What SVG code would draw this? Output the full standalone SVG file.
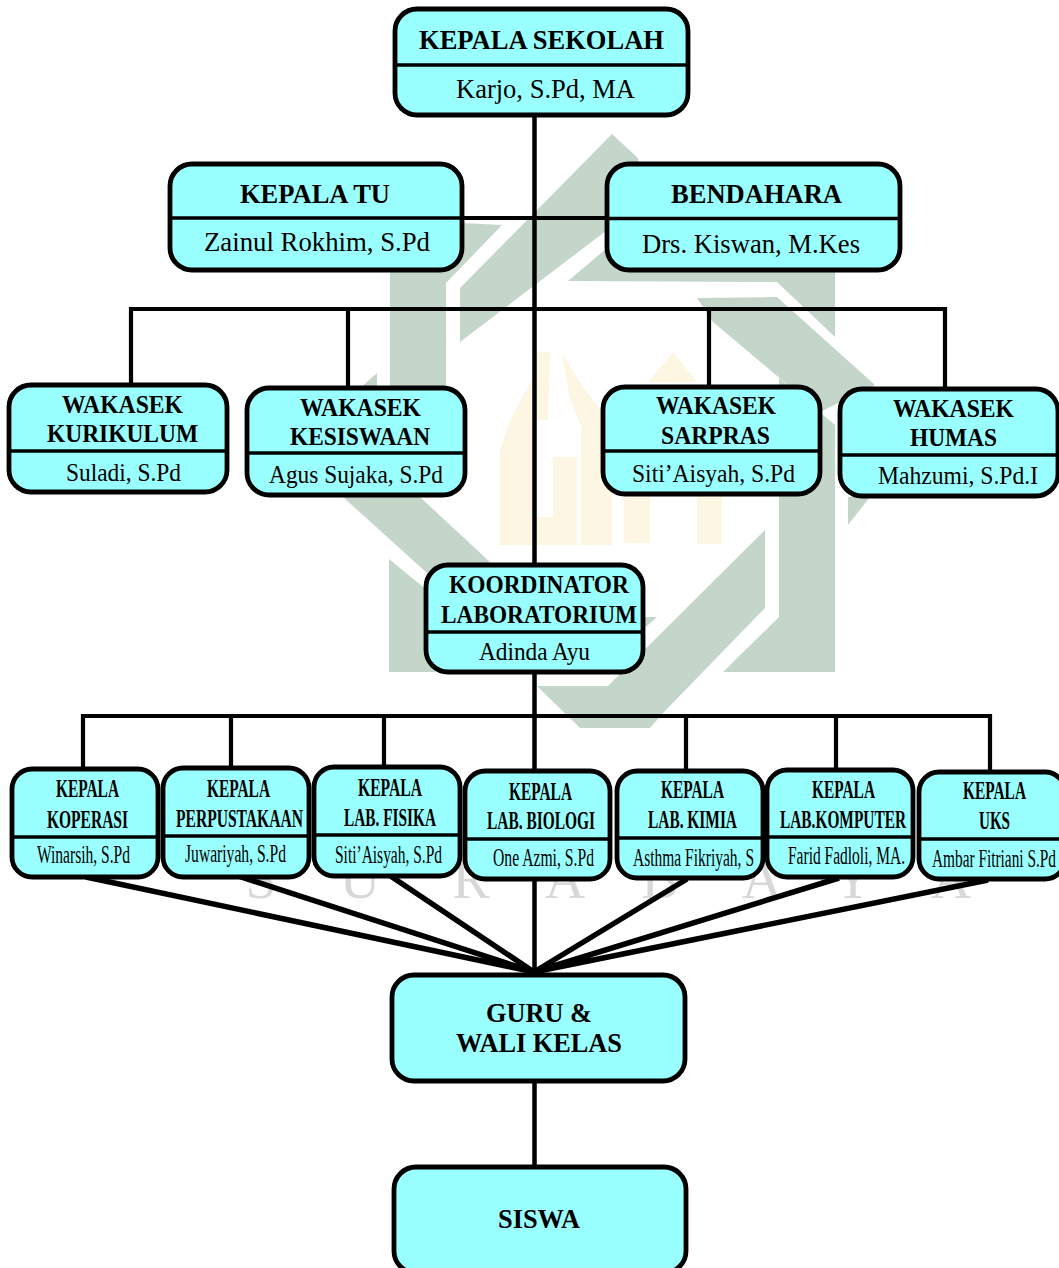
<svg xmlns="http://www.w3.org/2000/svg" width="1059" height="1268" viewBox="0 0 1059 1268">
<defs><filter id="soft" x="-5%" y="-5%" width="110%" height="110%"><feGaussianBlur stdDeviation="0.7"/></filter></defs>
<style>
text{font-family:"Liberation Serif","Times New Roman",serif;fill:#000}
.b{font-weight:bold;font-size:27px}
.n{font-size:27px}
.sb{font-weight:bold;font-size:26px}
.sn{font-size:26px}
.box{fill:#99ffff;stroke:#000;stroke-width:4.8}
.div{stroke:#000;stroke-width:3.5}
.con{stroke:#000;fill:none;stroke-width:4.5}
.diag{stroke:#000;fill:none;stroke-width:5.5}
.thin{stroke:#000;fill:none;stroke-width:4.2}
.wg{fill:#c4d5ca}
.wy{fill:#fdf6e3}
.wt{font-size:56px;fill:#d8d8d8;text-anchor:middle}
</style>
<rect width="1059" height="1268" fill="#fff"/>
<g id="watermark" filter="url(#soft)">
<polygon class="wg" points="390,270 440,222 502,225 446,283 446,392 390,392"/>
<polygon class="wg" points="612,134 638,158 640,205 460,342 460,288"/>
<polygon class="wg" points="568,281 607,248 620,240 835,270 835,337 777,282"/>
<polygon class="wg" points="697,298 777,297 875,385 820,412 713,322"/>
<polygon class="wg" points="779,378 835,425 835,672 723,672 779,617"/>
<polygon class="wg" points="765,530 765,608 663,713 650,728 580,728 537,686 608,686"/>
<polygon class="wg" points="640,617 657,617 640,632"/>
<polygon class="wg" points="343,497 420,497 490,562 440,590 427,573"/>
<polygon class="wg" points="389,559 445,605 445,672 389,672"/>
<polygon class="wg" points="377,373 377,390 358,390"/>
<polygon class="wg" points="848,497 870,497 848,525"/>
<polygon class="wy" points="500,545 500,450 510,420 533,378 533,545"/>
<polygon class="wy" points="537,352 550,352 548,420 537,420"/>
<polygon class="wy" points="537,517 577,517 577,545 537,545"/>
<polygon class="wy" points="553,457 577,457 577,545 553,545"/>
<polygon class="wy" points="581,426 603,426 612,440 612,545 581,545"/>
<polygon class="wy" points="562,353 583,387 603,413 603,426 581,426 570,400"/>
<polygon class="wy" points="624,497 650,497 650,543 624,543"/>
<polygon class="wy" points="697,493 722,493 722,544 697,544"/>
<polygon class="wy" points="673,352 648,382 697,382"/>
<g>
<text class="wt" x="261" y="898">S</text>
<text class="wt" x="360" y="898">U</text>
<text class="wt" x="471" y="898">R</text>
<text class="wt" x="565" y="898">A</text>
<text class="wt" x="660" y="898">B</text>
<text class="wt" x="762" y="898">A</text>
<text class="wt" x="853" y="898">Y</text>
<text class="wt" x="951" y="898">A</text>
</g>
</g>
<g id="connectors">
<path class="con" d="M534.5 115V975M534.5 1081V1166"/>
<path class="thin" d="M462 218H607"/>
<path class="thin" d="M131 385V309H945V389M348 388V309M709 387V309"/>
<path class="thin" d="M83 768V716H990V771M231 767V716M384 767V716M686 770V716M836 769V716"/>
<path class="diag" d="M86 877L534 972M238 876L534 972M389 875L534 972M687 879L534 972M839 878L534 972M988 880L534 972"/>
</g>
<g id="kepala-sekolah"><rect class="box" x="395" y="9" width="293" height="106" rx="22"/><path class="div" d="M395 65H688"/>
<text class="b" x="419" y="49" textLength="245" lengthAdjust="spacingAndGlyphs">KEPALA SEKOLAH</text>
<text class="n" x="456" y="98" textLength="179" lengthAdjust="spacingAndGlyphs">Karjo, S.Pd, MA</text></g>
<g id="kepala-tu"><rect class="box" x="170" y="164" width="292" height="106" rx="22"/><path class="div" d="M170 218H462"/>
<text class="b" x="240" y="203" textLength="150" lengthAdjust="spacingAndGlyphs">KEPALA TU</text>
<text class="n" x="204" y="251" textLength="226" lengthAdjust="spacingAndGlyphs">Zainul Rokhim, S.Pd</text></g>
<g id="bendahara"><rect class="box" x="607" y="164" width="293" height="106" rx="22"/><path class="div" d="M607 218.500H900"/>
<text class="b" x="671" y="203" textLength="171" lengthAdjust="spacingAndGlyphs">BENDAHARA</text>
<text class="n" x="642" y="253" textLength="218" lengthAdjust="spacingAndGlyphs">Drs. Kiswan, M.Kes</text></g>
<g id="wakasek-kurikulum"><rect class="box" x="9" y="385" width="218" height="107" rx="22"/><path class="div" d="M9 451H227"/>
<text class="sb" x="62" y="413" textLength="121" lengthAdjust="spacingAndGlyphs">WAKASEK</text>
<text class="sb" x="47" y="442" textLength="151" lengthAdjust="spacingAndGlyphs">KURIKULUM</text>
<text class="sn" x="66" y="481" textLength="115" lengthAdjust="spacingAndGlyphs">Suladi, S.Pd</text></g>
<g id="wakasek-kesiswaan"><rect class="box" x="247" y="388" width="218" height="107" rx="22"/><path class="div" d="M247 453H465"/>
<text class="sb" x="300" y="416" textLength="121" lengthAdjust="spacingAndGlyphs">WAKASEK</text>
<text class="sb" x="290" y="445" textLength="140" lengthAdjust="spacingAndGlyphs">KESISWAAN</text>
<text class="sn" x="269" y="483" textLength="174" lengthAdjust="spacingAndGlyphs">Agus Sujaka, S.Pd</text></g>
<g id="wakasek-sarpras"><rect class="box" x="603" y="387" width="217" height="107" rx="22"/><path class="div" d="M603 451H820"/>
<text class="sb" x="656" y="414" textLength="120" lengthAdjust="spacingAndGlyphs">WAKASEK</text>
<text class="sb" x="661" y="444" textLength="109" lengthAdjust="spacingAndGlyphs">SARPRAS</text>
<text class="sn" x="632" y="482" textLength="163" lengthAdjust="spacingAndGlyphs">Siti’Aisyah, S.Pd</text></g>
<g id="wakasek-humas"><rect class="box" x="840" y="389" width="218" height="107" rx="22"/><path class="div" d="M840 455H1058"/>
<text class="sb" x="893" y="417" textLength="121" lengthAdjust="spacingAndGlyphs">WAKASEK</text>
<text class="sb" x="910" y="446" textLength="87" lengthAdjust="spacingAndGlyphs">HUMAS</text>
<text class="sn" x="878" y="484" textLength="160" lengthAdjust="spacingAndGlyphs">Mahzumi, S.Pd.I</text></g>
<g id="koordinator-lab"><rect class="box" x="426" y="565" width="217" height="107" rx="22"/><path class="div" d="M426 632H643"/>
<text class="sb" x="449" y="593" textLength="180" lengthAdjust="spacingAndGlyphs">KOORDINATOR</text>
<text class="sb" x="441" y="623" textLength="196" lengthAdjust="spacingAndGlyphs">LABORATORIUM</text>
<text class="sn" x="479" y="660" textLength="111" lengthAdjust="spacingAndGlyphs">Adinda Ayu</text></g>
<g id="koperasi"><rect class="box" x="12" y="769" width="146" height="108" rx="20"/><path class="div" d="M12 837H158"/>
<text class="sb" x="56" y="797" textLength="63" lengthAdjust="spacingAndGlyphs">KEPALA</text>
<text class="sb" x="47" y="828" textLength="81" lengthAdjust="spacingAndGlyphs">KOPERASI</text>
<text class="sn" x="37" y="863" textLength="93" lengthAdjust="spacingAndGlyphs">Winarsih, S.Pd</text></g>
<g id="perpustakaan"><rect class="box" x="163" y="768" width="146" height="109" rx="20"/><path class="div" d="M163 836H309"/>
<text class="sb" x="207" y="797" textLength="63" lengthAdjust="spacingAndGlyphs">KEPALA</text>
<text class="sb" x="176" y="827" textLength="127" lengthAdjust="spacingAndGlyphs">PERPUSTAKAAN</text>
<text class="sn" x="185" y="862" textLength="101" lengthAdjust="spacingAndGlyphs">Juwariyah, S.Pd</text></g>
<g id="lab-fisika"><rect class="box" x="314" y="767" width="146" height="109" rx="20"/><path class="div" d="M314 835H460"/>
<text class="sb" x="358" y="796" textLength="64" lengthAdjust="spacingAndGlyphs">KEPALA</text>
<text class="sb" x="344" y="826" textLength="92" lengthAdjust="spacingAndGlyphs">LAB. FISIKA</text>
<text class="sn" x="335" y="863" textLength="107" lengthAdjust="spacingAndGlyphs">Siti’Aisyah, S.Pd</text></g>
<g id="lab-biologi"><rect class="box" x="465" y="771" width="145" height="108" rx="20"/><path class="div" d="M465 839H610"/>
<text class="sb" x="509" y="800" textLength="63" lengthAdjust="spacingAndGlyphs">KEPALA</text>
<text class="sb" x="487" y="829" textLength="108" lengthAdjust="spacingAndGlyphs">LAB. BIOLOGI</text>
<text class="sn" x="493" y="866" textLength="101" lengthAdjust="spacingAndGlyphs">One Azmi, S.Pd</text></g>
<g id="lab-kimia"><rect class="box" x="617" y="771" width="146" height="107" rx="20"/><path class="div" d="M617 838H763"/>
<text class="sb" x="661" y="798" textLength="63" lengthAdjust="spacingAndGlyphs">KEPALA</text>
<text class="sb" x="648" y="828" textLength="89" lengthAdjust="spacingAndGlyphs">LAB. KIMIA</text>
<text class="sn" x="633" y="866" textLength="121" lengthAdjust="spacingAndGlyphs">Asthma Fikriyah, S</text></g>
<g id="lab-komputer"><rect class="box" x="767" y="770" width="146" height="107" rx="20"/><path class="div" d="M767 837H913"/>
<text class="sb" x="812" y="798" textLength="63" lengthAdjust="spacingAndGlyphs">KEPALA</text>
<text class="sb" x="780" y="828" textLength="126" lengthAdjust="spacingAndGlyphs">LAB.KOMPUTER</text>
<text class="sn" x="788" y="864" textLength="117" lengthAdjust="spacingAndGlyphs">Farid Fadloli, MA.</text></g>
<g id="uks"><rect class="box" x="919" y="772" width="146" height="107" rx="20"/><path class="div" d="M919 839H1065"/>
<text class="sb" x="963" y="799" textLength="63" lengthAdjust="spacingAndGlyphs">KEPALA</text>
<text class="sb" x="979" y="829" textLength="31" lengthAdjust="spacingAndGlyphs">UKS</text>
<text class="sn" x="932" y="867" textLength="124" lengthAdjust="spacingAndGlyphs">Ambar Fitriani S.Pd</text></g>
<g id="guru"><rect class="box" x="392" y="975" width="293" height="106" rx="22"/>
<text class="b" x="486" y="1022" textLength="106" lengthAdjust="spacingAndGlyphs">GURU &amp;</text>
<text class="b" x="456" y="1052" textLength="166" lengthAdjust="spacingAndGlyphs">WALI KELAS</text></g>
<g id="siswa"><rect class="box" x="394" y="1167" width="292" height="106" rx="22"/>
<text class="b" x="498" y="1228" textLength="82" lengthAdjust="spacingAndGlyphs">SISWA</text></g>
</svg>
